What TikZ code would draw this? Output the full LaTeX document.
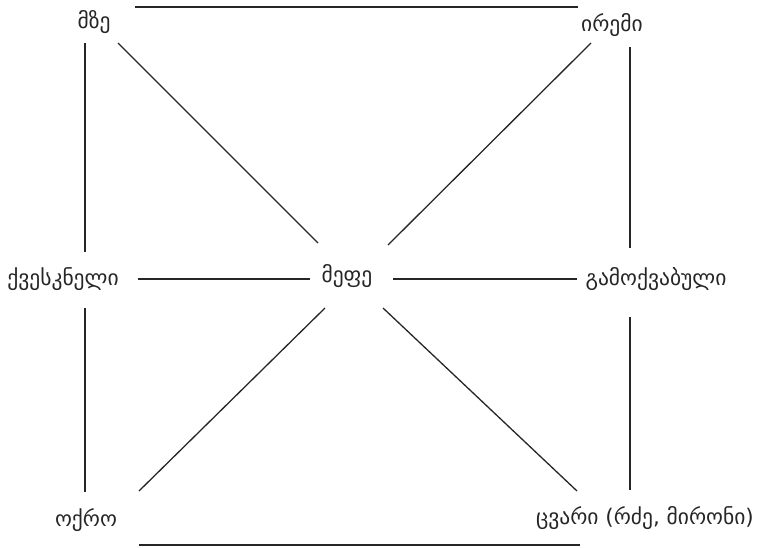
\documentclass[tikz,border=0pt]{standalone}
\usepackage{fontspec}
\setmainfont{DejaVu Sans}
\usetikzlibrary{positioning}

\begin{document}
\begin{tikzpicture}[
    x=1pt, y=-1pt,
    lbl/.style={anchor=base,inner sep=0pt,font=\fontsize{21.5}{25}\selectfont,text=black!85},
    edge/.style={line width=1.3pt,black!85}
]
  \useasboundingbox (0,0) rectangle (758,547);

  % labels
  \node[lbl] (mze)    at (94,28)   {მზე};
  \node[lbl] (irem)   at (612,31)  {ირემი};
  \node[lbl] (kvesk)  at (63,285)  {ქვესკნელი};
  \node[lbl] (mefe)   at (347,282) {მეფე};
  \node[lbl] (gamo)   at (656,285) {გამოქვაბული};
  \node[lbl] (okro)   at (86,526)  {ოქრო};
  \node[lbl] (tsvari) at (645,524) {ცვარი (რძე, მირონი)};

  % outer frame
  \draw[edge] ([shift={(41,-21)}]mze.base) -- ([shift={(-34,-24)}]irem.base);
  \draw[edge] ([shift={(53,19)}]okro.base) -- ([shift={(-65,21)}]tsvari.base);
  \draw[edge] ([shift={(-9,15)}]mze.base) -- ([shift={(22,-33)}]kvesk.base);
  \draw[edge] ([shift={(22,23)}]kvesk.base) -- ([shift={(-1,-34)}]okro.base);
  \draw[edge] ([shift={(18,16)}]irem.base) -- ([shift={(-26,-37)}]gamo.base);
  \draw[edge] ([shift={(-26,32)}]gamo.base) -- ([shift={(-15,-34)}]tsvari.base);

  % spokes to the centre
  \draw[edge] ([shift={(75,-6)}]kvesk.base) -- ([shift={(-37,-3)}]mefe.base);
  \draw[edge] ([shift={(46,-3)}]mefe.base) -- ([shift={(-79,-6)}]gamo.base);
  \draw[edge] ([shift={(24,15)}]mze.base) -- ([shift={(-29,-39)}]mefe.base);
  \draw[edge] ([shift={(-21,12)}]irem.base) -- ([shift={(41,-37)}]mefe.base);
  \draw[edge] ([shift={(-22,26)}]mefe.base) -- ([shift={(53,-35)}]okro.base);
  \draw[edge] ([shift={(36,26)}]mefe.base) -- ([shift={(-68,-33)}]tsvari.base);
\end{tikzpicture}
\end{document}
